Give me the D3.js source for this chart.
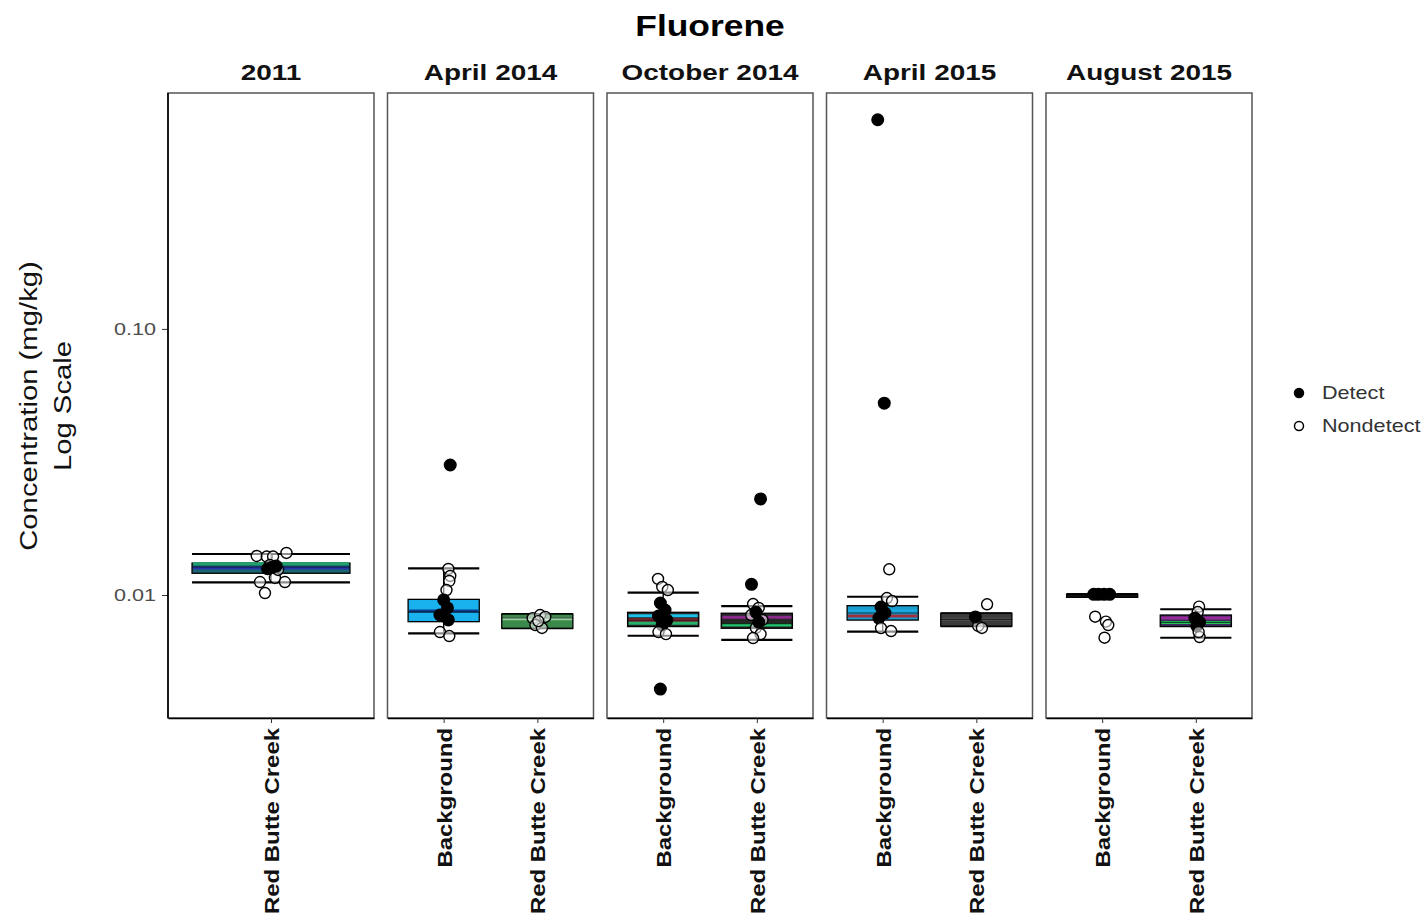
<!DOCTYPE html>
<html><head><meta charset="utf-8">
<script src="https://cdn.jsdelivr.net/npm/d3@7"></script>
<style>body{margin:0;background:#fff;}svg{display:block;font-family:"Liberation Sans",Arial,sans-serif;}</style>
</head><body>
<script>
// ---------- data ----------
const title = "Fluorene";
const panels = ["2011", "April 2014", "October 2014", "April 2015", "August 2015"];
const panelSites = [["Red Butte Creek"], ["Background", "Red Butte Creek"], ["Background", "Red Butte Creek"], ["Background", "Red Butte Creek"], ["Background", "Red Butte Creek"]];
const yTicks = [0.01, 0.1];
const yTickLabels = ["0.01", "0.10"];
const legendLabels = ["Detect", "Nondetect"];

// box groups
const boxPanel  = ["2011", "April 2014", "April 2014", "October 2014", "October 2014", "April 2015", "April 2015", "August 2015", "August 2015"];
const boxSite   = ["Red Butte Creek", "Background", "Red Butte Creek", "Background", "Red Butte Creek", "Background", "Red Butte Creek", "Background", "Red Butte Creek"];
const whiskLow  = [0.01116, 0.00718, 0.00750, 0.00703, 0.00678, 0.00728, 0.00764, 0.01006, 0.00691];
const q1        = [0.01207, 0.00794, 0.00750, 0.00761, 0.00750, 0.00805, 0.00764, 0.01006, 0.00761];
const median    = [0.01274, 0.00863, 0.00820, 0.00805, 0.00780, 0.00856, 0.00810, 0.01006, 0.00789];
const q3        = [0.01318, 0.00963, 0.00848, 0.00861, 0.00854, 0.00912, 0.00854, 0.01006, 0.00841];
const whiskHigh = [0.01426, 0.01260, 0.00848, 0.01020, 0.00909, 0.00985, 0.00854, 0.01006, 0.00884];
// inner coloured lines of overlapping boxes (value per box)
const stripeBox   = [0, 0, 1, 2, 3, 3, 3, 4, 4, 5, 5, 6, 8, 8];
const stripeValue = [0.01310, 0.01262, 0.00870, 0.00815, 0.00835, 0.00805, 0.00783, 0.00825, 0.00772, 0.00873, 0.00834, 0.00810, 0.00820, 0.00789];

// points: box index, value, detect flag, jitter (category units)
const ptBox = [
  0,0,0,0,0,0,0,0,0,0,0,0,0,
  1,1,1,1,1,1,1,1,1,1,1,
  2,2,2,2,2,2,
  3,3,3,3,3,3,3,3,3,3,3,
  4,4,4,4,4,4,4,4,4,4,4,
  5,5,5,5,5,5,5,5,5,5,
  6,6,6,6,
  7,7,7,7,7,7,7,7,
  8,8,8,8,8,8,8];
const ptValue = [
  0.01402,0.01395,0.01395,0.01439,0.01119,0.01159,0.01119,0.01017,0.01297,0.01242,0.01255,0.01274,0.01285,
  0.0308,0.01253,0.01179,0.01129,0.01044,0.00958,0.00894,0.00841,0.00806,0.00726,0.00701,
  0.00819,0.00841,0.00827,0.00771,0.00752,0.00798,
  0.01149,0.01072,0.01044,0.00933,0.00878,0.00834,0.00805,0.00771,0.00726,0.00713,0.00443,
  0.01097,0.02296,0.00925,0.00894,0.00841,0.00806,0.00752,0.00713,0.00689,0.00863,0.00791,
  0.611,0.0526,0.01249,0.00974,0.00949,0.00901,0.00856,0.00819,0.00751,0.00732,
  0.00923,0.00765,0.00752,0.00827,
  0.01006,0.01006,0.01006,0.01006,0.00829,0.00794,0.00771,0.00691,
  0.00904,0.00863,0.00819,0.00791,0.00765,0.00695,0.00726];
const ptDetect = [
  0,0,0,0,0,0,0,0,0,0,1,1,1,
  1,0,0,0,0,1,1,1,1,0,0,
  0,0,0,0,0,0,
  0,0,0,1,1,1,1,1,0,0,1,
  1,1,0,0,0,0,0,0,0,1,1,
  1,1,0,0,0,1,1,1,0,0,
  0,0,0,1,
  1,1,1,1,0,0,0,0,
  0,0,1,1,1,0,0];
const ptJitter = [
  -0.083,-0.025,0.012,0.090,-0.064,0.023,0.081,-0.035,-0.006,0.041,-0.020,0.010,0.030,
  0.070,0.050,0.070,0.060,0.030,0.000,0.040,-0.040,0.050,-0.040,0.060,
  -0.050,0.030,0.085,-0.020,0.050,0.010,
  -0.055,-0.010,0.050,-0.030,0.020,-0.050,0.040,-0.010,-0.050,0.030,-0.030,
  -0.057,0.040,-0.040,0.020,-0.060,0.060,-0.010,0.040,-0.040,-0.010,0.020,
  -0.053,0.017,0.070,0.045,0.100,-0.018,0.024,-0.040,-0.018,0.090,
  0.115,0.020,0.060,-0.010,
  -0.090,-0.040,0.020,0.080,-0.075,0.040,0.065,0.025,
  0.035,0.020,-0.010,0.040,0.010,0.040,0.030];

// ---------- styles ----------
const boxFill = ["#1b6470", "#19b2ee", "#3b8a4c", "#262626", "#262626", "#1a9ccc", "#3a3a3a", "#111111", "#3d2a5c"];
const stripeColorAll = ["#1ea36b", "#2636a8", "#0b3d8c", "#9ad0a0", "#1cc0e8", "#9a2a3a", "#26b06a", "#8a2a8a", "#22c06a", "#1aa8e0", "#a03040", "#555555", "#9a2a9a", "#22c05a"];
const boxWidthUnits = {"2011": 0.92};
const defaultBoxWidth = 0.76;
// horizontal stretch of glyphs (reference text is rendered wide)
const SX = {title: 1.18, strip: 1.27, xlab: 1.14, ytitle: 1.22, legend: 1.2, tick: 1.27};

// ---------- layout ----------
const W = 1427, H = 918;
const plotTop = 93, plotBottom = 718, plotLeft = 168, plotRight = 1252;

const svg = d3.select("body").append("svg").attr("width", W).attr("height", H);

const y = d3.scaleLog().domain([0.00345, 0.77]).range([plotBottom, plotTop]);
const px = d3.scaleBand().domain(panels).range([plotLeft, plotRight]).paddingInner(0.0615);

const xScales = {};
panels.forEach((p, i) => {
  xScales[p] = d3.scalePoint().domain(panelSites[i]).range([px(p), px(p) + px.bandwidth()]).padding(0.6);
});

svg.append("text").attr("transform", `translate(710,36) scale(${SX.title},1)`).attr("text-anchor", "middle")
  .attr("font-size", 30).attr("font-weight", "bold").attr("fill", "#000").text(title);

// panels
panels.forEach((p, i) => {
  const g = svg.append("g");
  const x0 = px(p), bw = px.bandwidth();
  g.append("rect").attr("x", x0).attr("y", plotTop).attr("width", bw).attr("height", plotBottom - plotTop)
    .attr("fill", "#fff").attr("stroke", "#555").attr("stroke-width", 1.5);
  g.append("text").attr("transform", `translate(${x0 + bw / 2},80) scale(${SX.strip},1)`).attr("text-anchor", "middle")
    .attr("font-size", 22).attr("font-weight", "bold").attr("fill", "#111").text(p);
  // bottom axis
  const ax = d3.axisBottom(xScales[p]).tickSize(5).tickSizeOuter(0);
  const axg = g.append("g").attr("transform", `translate(0,${plotBottom})`).call(ax);
  axg.select(".domain").attr("stroke", "#000").attr("stroke-width", 1.6);
  axg.selectAll(".tick line").attr("stroke", "#333");
  axg.selectAll(".tick text").attr("transform", `rotate(-90) scale(${SX.xlab},1)`).attr("x", -10 / SX.xlab).attr("y", 0).attr("dy", "0.36em")
    .attr("text-anchor", "end").attr("font-size", 21).attr("font-weight", "bold").attr("fill", "#111")
    .attr("font-family", "Liberation Sans, Arial, sans-serif");
});

// y axis
const yAx = d3.axisLeft(y).tickValues(yTicks).tickFormat((d, i) => yTickLabels[i]).tickSize(6);
const yg = svg.append("g").attr("transform", `translate(${plotLeft},0)`).call(yAx);
yg.select(".domain").remove();
yg.append("line").attr("x1", 0).attr("x2", 0).attr("y1", plotTop).attr("y2", plotBottom).attr("stroke", "#000").attr("stroke-width", 1.6);
yg.selectAll(".tick line").attr("stroke", "#333");
yg.selectAll(".tick text").attr("font-size", 17).attr("fill", "#4d4d4d").attr("x", -12 / SX.tick)
  .attr("transform", `scale(${SX.tick},1)`)
  .attr("font-family", "Liberation Sans, Arial, sans-serif");

// y title
const yt = svg.append("text").attr("transform", `translate(0,406) rotate(-90) scale(${SX.ytitle},1)`).attr("text-anchor", "middle")
  .attr("font-size", 24).attr("fill", "#111");
yt.append("tspan").attr("x", 0).attr("y", 37).text("Concentration (mg/kg)");
yt.append("tspan").attr("x", 0).attr("y", 71).text("Log Scale");

// boxes
const boxes = boxPanel.map((p, i) => ({
  p, site: boxSite[i], lo: whiskLow[i], q1: q1[i], med: median[i], q3: q3[i], hi: whiskHigh[i], i
}));
const bg = svg.append("g");
boxes.forEach(b => {
  const cx = xScales[b.p](b.site);
  const step = xScales[b.p].step();
  const bw = (boxWidthUnits[b.p] || defaultBoxWidth) * step;
  const g = bg.append("g");
  g.append("line").attr("x1", cx).attr("x2", cx).attr("y1", y(b.hi)).attr("y2", y(b.lo)).attr("stroke", "#000").attr("stroke-width", 1.4);
  [b.lo, b.hi].forEach(v => g.append("line").attr("x1", cx - bw / 2).attr("x2", cx + bw / 2)
    .attr("y1", y(v)).attr("y2", y(v)).attr("stroke", "#000").attr("stroke-width", 2.2));
  const top = y(b.q3), bot = y(b.q1);
  g.append("rect").attr("x", cx - bw / 2).attr("y", top).attr("width", bw).attr("height", Math.max(bot - top, 3))
    .attr("fill", boxFill[b.i]).attr("stroke", "#000").attr("stroke-width", 1.3);
  stripeBox.forEach((bi, k) => {
    if (bi !== b.i) return;
    g.append("line").attr("x1", cx - bw / 2 + 1).attr("x2", cx + bw / 2 - 1)
      .attr("y1", y(stripeValue[k])).attr("y2", y(stripeValue[k]))
      .attr("stroke", stripeColorAll[k]).attr("stroke-width", 3);
  });
  g.append("line").attr("x1", cx - bw / 2).attr("x2", cx + bw / 2).attr("y1", y(b.med)).attr("y2", y(b.med))
    .attr("stroke", "#000").attr("stroke-width", 1.2).attr("opacity", 0.6);
});

// points
const pg = svg.append("g");
ptBox.forEach((bi, k) => {
  const b = boxes[bi];
  const sc = xScales[b.p];
  const cx = sc(b.site) + ptJitter[k] * sc.step();
  pg.append("circle").attr("cx", cx).attr("cy", y(ptValue[k])).attr("r", ptDetect[k] ? 5.8 : 5.5)
    .attr("fill", ptDetect[k] ? "#000" : "#fff").attr("fill-opacity", ptDetect[k] ? 1 : 0.55)
    .attr("stroke", "#000").attr("stroke-width", 1.4);
});

// legend
const lg = svg.append("g");
legendLabels.forEach((l, i) => {
  const yy = 393 + i * 33;
  lg.append("circle").attr("cx", 1299).attr("cy", yy).attr("r", 4.5)
    .attr("fill", i === 0 ? "#000" : "#fff").attr("stroke", "#000").attr("stroke-width", 1.5);
  lg.append("text").attr("transform", `translate(1322,${yy}) scale(${SX.legend},1)`).attr("dy", "0.35em").attr("font-size", 18)
    .attr("fill", "#333").text(l);
});
</script>
</body></html>
